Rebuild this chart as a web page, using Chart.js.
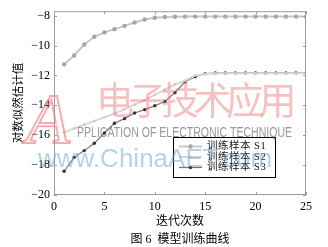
<!DOCTYPE html>
<html>
<head>
<meta charset="utf-8">
<script src="https://cdn.jsdelivr.net/npm/chart.js@4.4.1/dist/chart.umd.min.js"></script>
<style>
  html, body { margin: 0; padding: 0; background: #fff; }
  #wrap { width: 328px; height: 247px; }
</style>
</head>
<body>
<div id="wrap"><canvas id="chart" width="328" height="247"></canvas></div>
<script>
// data
const iterations = [1, 2, 3, 4, 5, 6, 7, 8, 9, 10, 11, 12, 13, 14, 15, 16, 17, 18, 19, 20, 21, 22, 23, 24, 25];
const s1Values = [-11.26, -10.66, -9.93, -9.41, -9.12, -8.9, -8.68, -8.46, -8.26, -8.14, -8.09, -8.07, -8.06,
  -8.06, -8.06, -8.06, -8.06, -8.06, -8.06, -8.06, -8.06, -8.06, -8.06, -8.06, -8.06];
const s2Values = [-15.8, -15.55, -15.3, -15.05, -14.8, -14.55, -14.25, -13.95, -13.65, -13.3, -12.95, -12.6, -12.35,
  -12.0, -11.9, -11.87, -11.86, -11.86, -11.86, -11.86, -11.86, -11.86, -11.86, -11.86, -11.86];
const s3Values = [-18.41, -17.48, -17.03, -16.54, -15.85, -15.2, -14.89, -14.51, -14.29, -14.03, -13.74, -13.15, -12.42,
  -12.09, -11.88, -11.84, -11.83, -11.83, -11.83, -11.83, -11.83, -11.83, -11.83, -11.83, -11.83];
const seriesNames = ["训练样本 S1", "训练样本 S2", "训练样本 S3"];
const xTicks = [0, 5, 10, 15, 20, 25];
const yTicks = [-20, -18, -16, -14, -12, -10, -8];
const xTitle = "迭代次数";
const yTitle = "对数似然估计值";
const caption = "图 6  模型训练曲线";

const serif = "'Liberation Serif', 'Noto Sans CJK SC', serif";
const toPoints = (vals) => iterations.map((x, i) => ({ x: x, y: vals[i] }));

// box round the plot with inward ticks, like the original
const boxPlugin = {
  id: "box",
  afterDatasetsDraw(chart) {
    const { ctx, chartArea: a, scales } = chart;
    ctx.save();
    ctx.strokeStyle = "#9c9c9c";
    ctx.lineWidth = 1;
    ctx.strokeRect(a.left + 0.5, a.top + 0.5, a.right - a.left - 1, a.bottom - a.top - 1);
    ctx.beginPath();
    yTicks.forEach((v) => {
      const y = Math.round(scales.y.getPixelForValue(v)) + 0.5;
      ctx.moveTo(a.left, y); ctx.lineTo(a.left + 3, y);
      ctx.moveTo(a.right, y); ctx.lineTo(a.right - 3, y);
    });
    xTicks.forEach((v) => {
      const x = Math.round(scales.x.getPixelForValue(v)) + 0.5;
      ctx.moveTo(x, a.bottom); ctx.lineTo(x, a.bottom - 3);
      ctx.moveTo(x, a.top); ctx.lineTo(x, a.top + 3);
    });
    ctx.stroke();
    ctx.restore();
  },
};

// legend box inside the plot
const legendPlugin = {
  id: "boxLegend",
  afterDatasetsDraw(chart) {
    const { ctx } = chart;
    const bx = 173, by = 137, bw = 102, bh = 40;
    ctx.save();
    ctx.fillStyle = "#fff";
    ctx.fillRect(bx, by, bw, bh);
    ctx.strokeStyle = "#000";
    ctx.lineWidth = 1;
    ctx.strokeRect(bx + 0.5, by + 0.5, bw, bh);
    ctx.font = "10.5px " + serif;
    ctx.letterSpacing = "0.5px";
    ctx.textBaseline = "middle";
    ctx.textAlign = "left";
    chart.data.datasets.forEach((ds, i) => {
      const y = by + 9.5 + i * 10.5;
      ctx.strokeStyle = ds.borderColor;
      ctx.lineWidth = ds.borderWidth;
      ctx.beginPath();
      ctx.moveTo(bx + 6, y); ctx.lineTo(bx + 29, y);
      ctx.stroke();
      ctx.fillStyle = ds.pointBackgroundColor;
      ctx.beginPath();
      ctx.arc(bx + 17.5, y, ds.pointRadius, 0, Math.PI * 2);
      ctx.fill();
      ctx.fillStyle = "#111";
      ctx.fillText(ds.label, bx + 34, y);
    });
    ctx.restore();
  },
};

// publisher watermark lying over the figure
const watermarkPlugin = {
  id: "watermark",
  afterDraw(chart) {
    const { ctx } = chart;
    ctx.save();
    ctx.textBaseline = "alphabetic";
    ctx.textAlign = "left";
    ctx.strokeStyle = "rgba(236, 120, 125, 0.6)";
    ctx.lineWidth = 2;
    ctx.font = "italic 72px 'Liberation Serif', serif";
    ctx.strokeText("A", 26, 143);
    ctx.fillStyle = "rgba(238, 115, 120, 0.45)";
    ctx.font = "38px 'Noto Sans CJK SC', sans-serif";
    "电子技术应用".split("").forEach((c, i) => {
      ctx.fillText(c, 96 + i * 32.5, 114);
    });
    ctx.fillStyle = "rgba(110, 110, 110, 0.7)";
    ctx.font = "14px 'Liberation Sans', Arial, sans-serif";
    ctx.fillText("PPLICATION OF ELECTRONIC TECHNIQUE", 77, 137, 215);
    ctx.fillStyle = "rgba(110, 165, 210, 0.5)";
    ctx.font = "26px 'Liberation Sans', Arial, sans-serif";
    ctx.fillText("www.ChinaAET.com", 38, 167, 248);
    ctx.restore();
  },
};

const minus = (v) => String(v).replace("-", "\u2212");

new Chart(document.getElementById("chart"), {
  type: "line",
  data: {
    datasets: [
      {
        label: seriesNames[0],
        data: toPoints(s1Values),
        borderColor: "#c8c8c8",
        borderWidth: 2,
        pointRadius: 2.2,
        pointBackgroundColor: "#a6a6a6",
        pointBorderColor: "#a6a6a6",
        pointBorderWidth: 0,
      },
      {
        label: seriesNames[1],
        data: toPoints(s2Values),
        borderColor: "#d8d8d8",
        borderWidth: 2,
        pointRadius: 1.4,
        pointBackgroundColor: "#cccccc",
        pointBorderColor: "#cccccc",
        pointBorderWidth: 0,
      },
      {
        label: seriesNames[2],
        data: toPoints(s3Values),
        borderColor: "#767676",
        borderWidth: 1.2,
        pointRadius: 1.7,
        pointBackgroundColor: "#333333",
        pointBorderColor: "#333333",
        pointBorderWidth: 0,
      },
    ],
  },
  options: {
    responsive: false,
    animation: false,
    layout: { padding: { top: 8, right: 22, left: 0, bottom: 0 } },
    plugins: {
      legend: { display: false },
      tooltip: { enabled: false },
    },
    scales: {
      x: {
        type: "linear",
        min: 0,
        max: 25,
        afterBuildTicks: (s) => { s.ticks = xTicks.map((v) => ({ value: v })); },
        afterFit: (s) => { s.height = 52; },
        grid: { display: false, drawTicks: false },
        border: { display: false },
        ticks: { color: "#000", padding: 5, font: { family: serif, size: 12 } },
        title: {
          display: true,
          text: [xTitle, caption],
          color: "#000",
          font: { family: serif, size: 12, lineHeight: 1.5 },
          padding: { top: 0, bottom: -2 },
        },
      },
      y: {
        type: "linear",
        min: -20,
        max: -7.7,
        afterBuildTicks: (s) => { s.ticks = yTicks.map((v) => ({ value: v })); },
        afterFit: (s) => { s.width = 54; },
        grid: { display: false, drawTicks: false },
        border: { display: false },
        ticks: {
          color: "#000",
          padding: 4,
          font: { family: serif, size: 12 },
          callback: (v) => minus(v),
        },
        title: {
          display: true,
          text: yTitle,
          color: "#000",
          font: { family: serif, size: 11.5, lineHeight: 1.2 },
          padding: { top: 12, bottom: 0 },
        },
      },
    },
  },
  plugins: [boxPlugin, legendPlugin, watermarkPlugin],
});
</script>
</body>
</html>
